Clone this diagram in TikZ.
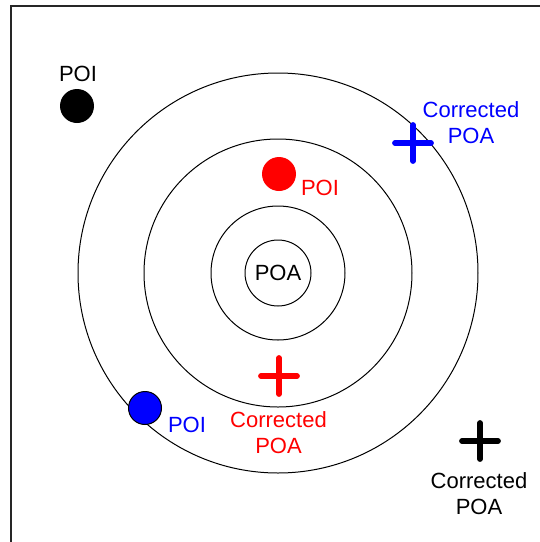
\documentclass[tikz,border=0pt]{standalone}
\usepackage{fontspec}
\setmainfont{Liberation Sans}
\definecolor{pblue}{RGB}{0,0,255}
\definecolor{pred}{RGB}{255,0,0}
\begin{document}
\begin{tikzpicture}[x=1pt,y=-1pt,
  ring/.style={draw=black, line width=1pt, circle, inner sep=0pt},
  dot/.style={circle, inner sep=0pt, minimum size=34pt},
  lbl/.style={font=\fontsize{22}{26}\selectfont, align=center, inner sep=0pt},
  plusline/.style={line width=5.8pt, line cap=round}]
\useasboundingbox (0,0) rectangle (540,542);
\clip (0,0) rectangle (540,542);
\draw[line width=1.2pt, draw=black!85] (11,6) rectangle (700,700);
% rings
\node[ring, minimum size=400pt] (r4) at (278,273) {};
\node[ring, minimum size=268pt] (r3) at (278,273) {};
\node[ring, minimum size=134pt] (r2) at (278,273) {};
\node[ring, minimum size=66pt] (r1) at (278,273) {};
\node[lbl] (poa) at (278,273) {POA};
% dots
\node[dot, fill=black] (kdot) at (77,106) {};
\node[lbl, anchor=base] (kpoi) at (78,81) {POI};
\node[dot, fill=pred] (rdot) at (279,174) {};
\node[lbl, anchor=base, text=pred] (rpoi) at (320,195) {POI};
\node[dot, fill=pblue, draw=black, line width=1pt, minimum size=33pt] (bdot) at (145,408) {};
\node[lbl, anchor=base, text=pblue] (bpoi) at (187,432) {POI};
% plus marks
\coordinate (bp) at (413,143);
\draw[plusline, pblue] ([xshift=-18pt]bp) -- ([xshift=18pt]bp) ([yshift=-18pt]bp) -- ([yshift=18pt]bp);
\coordinate (rp) at (279,376);
\draw[plusline, pred] ([xshift=-18pt]rp) -- ([xshift=18pt]rp) ([yshift=-18pt]rp) -- ([yshift=18pt]rp);
\coordinate (kp) at (480,441);
\draw[plusline, black] ([xshift=-18pt]kp) -- ([xshift=18pt]kp) ([yshift=-18pt]kp) -- ([yshift=18pt]kp);
% labels
\node[lbl, text=pblue, anchor=base] (bcor) at (471,143) {Corrected\\POA};
\node[lbl, text=pred, anchor=base] (rcor) at (278.5,453) {Corrected\\POA};
\node[lbl, text=black, anchor=base] (kcor) at (479,514) {Corrected\\POA};
\end{tikzpicture}
\end{document}
